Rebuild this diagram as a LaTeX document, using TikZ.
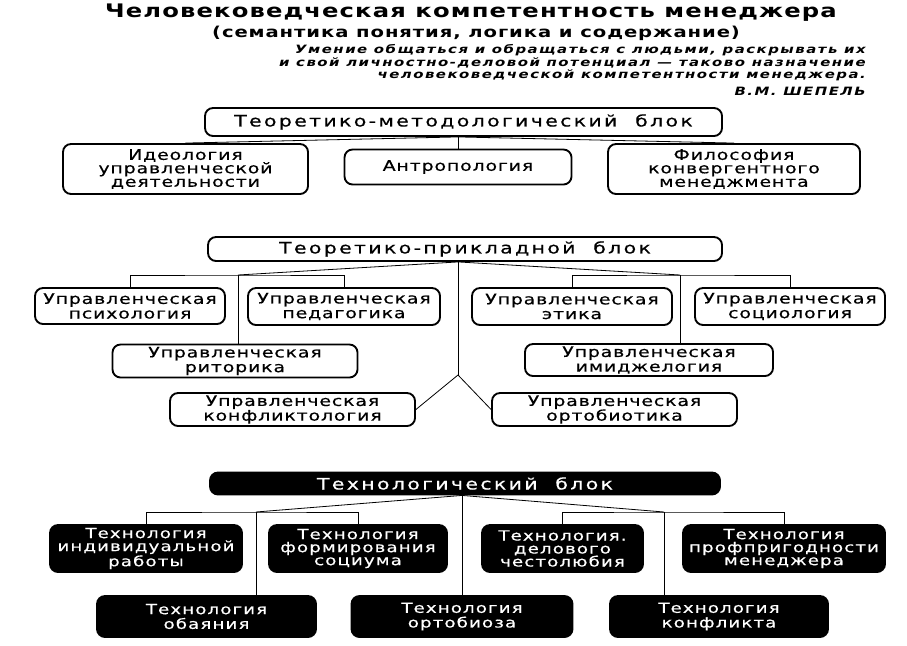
\documentclass[tikz,border=0pt]{standalone}
\usepackage{fontspec}
\setmainfont{DejaVu Sans}[FakeStretch=1.3,LetterSpace=6,UprightFeatures={FakeBold=0.5}]
\begin{document}
\begin{tikzpicture}[x=0.75pt,y=-0.75pt,
  boxsize/.style 2 args={minimum width=#1*0.75pt,minimum height=#2*0.75pt},
  topic/.style={draw,line width=1.4pt,rounded corners=6pt,inner sep=0pt,align=center,
    font=\fontsize{10.9}{11}\selectfont},
  topicsm/.style={topic,font=\fontsize{10.9}{10.1}\selectfont},
  blockhead/.style={topic,font=\fontsize{11.8}{12}\selectfont\addfontfeatures{LetterSpace=15}},
  tech/.style={topic,fill=black,text=white,font=\fontsize{10.5}{9.75}\selectfont\addfontfeatures{LetterSpace=8}},
  techlow/.style={tech,font=\fontsize{10.5}{11}\selectfont\addfontfeatures{LetterSpace=8}},
  techhead/.style={blockhead,fill=black,text=white},
  wire/.style={line width=0.6pt}]
\useasboundingbox (0,0) rectangle (907,646);

% heading and epigraph
\node[inner sep=0pt,font=\fontsize{14}{16}\selectfont\bfseries] (title) at (471,13)
  {Человековедческая компетентность менеджера};
\node[inner sep=0pt,font=\fontsize{11.3}{12}\selectfont\bfseries] (subtitle) at (476,33)
  {(семантика понятия, логика и содержание)};
\node[inner sep=0pt,anchor=east,align=right,
  font=\fontsize{8.6}{9.4}\selectfont\bfseries\itshape\addfontfeatures{LetterSpace=13}] (quote) at (866,63)
  {Умение общаться и обращаться с людьми, раскрывать их\\
   и свой личностно-деловой потенциал — таково назначение\\
   человековедческой компетентности менеджера.};
\node[inner sep=0pt,anchor=east,
  font=\fontsize{8.6}{9.4}\selectfont\bfseries\itshape\addfontfeatures{LetterSpace=13}] (author) at (866,91) {В.М. ШЕПЕЛЬ};

% theoretical-methodological block
\node[blockhead,boxsize={517}{28}] (b1) at (463.5,122) {Теоретико-методологический\ \ блок};
\node[topicsm,boxsize={245}{50}] (i1) at (185.5,169) {Идеология\\управленческой\\деятельности};
\node[topicsm,boxsize={227}{35}] (i2) at (458,167) {Антропология};
\node[topicsm,boxsize={252}{50}] (i3) at (734,169) {Философия\\конвергентного\\менеджмента};
\draw[wire] (i2.north |- b1.south) -- (i2.north);
\draw[wire] (i2.north |- b1.south) -- (i1.north);
\draw[wire] (i2.north |- b1.south) -- (i3.north);

% theoretical-applied block
\node[blockhead,boxsize={514}{24}] (b2) at (465,249) {Теоретико-прикладной\ \ блок};
\node[topic,boxsize={190}{36}] (p1) at (130,306) {Управленческая\\психология};
\node[topic,boxsize={192}{37}] (p2) at (344,306.5) {Управленческая\\педагогика};
\node[topic,boxsize={200}{37}] (p3) at (572,306.5) {Управленческая\\этика};
\node[topic,boxsize={190}{37}] (p4) at (790,306.5) {Управленческая\\социология};
\node[topic,boxsize={245}{33}] (r1) at (235,361) {Управленческая\\риторика};
\node[topic,boxsize={248}{32}] (r2) at (649,360) {Управленческая\\имиджелогия};
\node[topic,boxsize={245}{33}] (k1) at (292.5,409.5) {Управленческая\\конфликтология};
\node[topic,boxsize={245}{33}] (k2) at (614.5,409.5) {Управленческая\\ортобиотика};
\coordinate (jL) at (238,275);
\coordinate (jR) at (680,275);
\coordinate (split) at (458,375);
\draw[wire] (split |- b2.south) -- (split);
\draw[wire] (split) -- (k1.east);
\draw[wire] (split) -- (k2.west);
\draw[wire] (split |- b2.south) -- (jL);
\draw[wire] (split |- b2.south) -- (jR);
\draw[wire] (p1.north) |- (jL) -| (p2.north);
\draw[wire] (p3.north) |- (jR) -| (p4.north);
\draw[wire] (jL) -- (jL |- r1.north);
\draw[wire] (jR) -- (jR |- r2.north);

% technological block
\node[techhead,boxsize={510}{22}] (b3) at (465,483.5) {Технологический\ \ блок};
\node[tech,boxsize={192}{47}] (t1) at (146,548.5) {Технология\\индивидуальной\\работы};
\node[tech,boxsize={178}{47}] (t2) at (358,548.5) {Технология\\формирования\\социума};
\node[tech,boxsize={161}{47}] (t3) at (562.5,548.5) {Технология.\\делового\\честолюбия};
\node[tech,boxsize={202}{47}] (t4) at (784,548.5) {Технология\\профпригодности\\менеджера};
\node[techlow,boxsize={219}{41}] (o1) at (206.5,616.5) {Технология\\обаяния};
\node[techlow,boxsize={221}{41}] (o2) at (462,616.5) {Технология\\ортобиоза};
\node[techlow,boxsize={218}{41}] (o3) at (719,616.5) {Технология\\конфликта};
\coordinate (jl) at (256,512);
\coordinate (jr) at (664,512);
\draw[wire] (o2.north |- b3.south) -- (o2.north);
\draw[wire] (o2.north |- b3.south) -- (jl);
\draw[wire] (o2.north |- b3.south) -- (jr);
\draw[wire] (t1.north) |- (jl) -| (t2.north);
\draw[wire] (t3.north) |- (jr) -| (t4.north);
\draw[wire] (jl) -- (jl |- o1.north);
\draw[wire] (jr) -- (jr |- o3.north);
\end{tikzpicture}
\end{document}
